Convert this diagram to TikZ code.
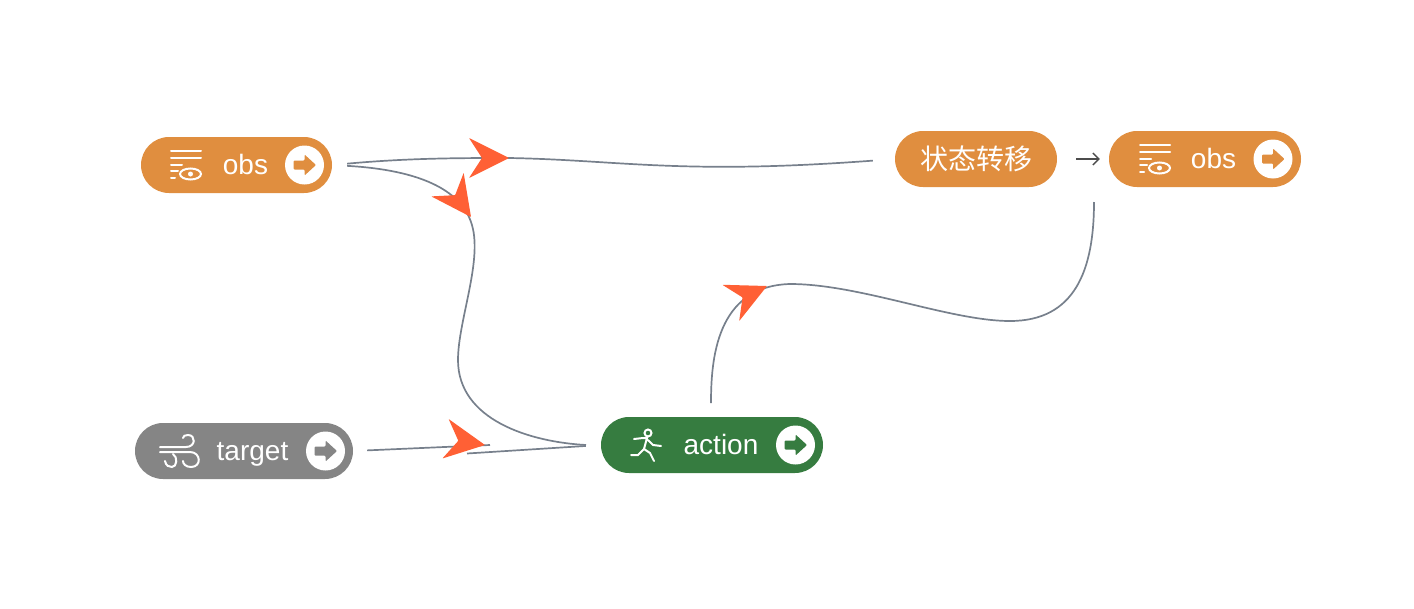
\documentclass[tikz,border=0pt]{standalone}
\usepackage{fontspec}
\setmainfont{Liberation Sans}
\newfontfamily\cjkfont{Noto Sans CJK SC}
\usetikzlibrary{shapes.misc,arrows.meta}
\definecolor{obsorange}{HTML}{E08E3F}
\definecolor{targetgray}{HTML}{858585}
\definecolor{actiongreen}{HTML}{367C40}
\definecolor{linkgray}{HTML}{77808C}
\definecolor{headred}{HTML}{FF6035}
\tikzset{
	pill/.style={rounded rectangle, minimum height=56pt, inner sep=0pt, text=white, font=\fontsize{28}{28}\selectfont},
	pilltext/.style={anchor=base, inner sep=0pt, text=white, font=\fontsize{28}{28}\selectfont},
	link/.style={draw=linkgray, line width=1.7pt},
	icon/.style={draw=white, line width=2pt, line cap=round},
	headmark/.pic={\fill[headred, rounded corners=0.6pt] (0,0) -- (-40,20) -- (-27,0) -- (-40,-20) -- cycle;},
	button/.pic={
		\fill[white] (0,0) circle (19.5);
		\fill[#1, rounded corners=1pt] (-11,-4.5) -- (0,-4.5) -- (0,-10.5) -- (11.5,0) -- (0,10.5) -- (0,4.5) -- (-11,4.5) -- cycle;},
	obsicon/.pic={
		\draw[icon] (-15,-14) -- (15,-14) (-15,-7) -- (15,-7) (-15,0) -- (-4,0) (-15,6) -- (-8,6) (-15,13) -- (-11,13);
		\draw[icon] (4.5,9) ellipse (10.5 and 5.5);
		\fill[white] (4.5,9) circle (2.5);},
	windicon/.pic={
		\draw[icon] (-20,-4) -- (6,-4) .. controls (16,-4) and (16,-16) .. (8,-16) .. controls (5,-16) and (3,-15) .. (3,-13);
		\draw[icon] (-20,1) -- (10,1) .. controls (21,1) and (22,16) .. (11,16) .. controls (6,16) and (3,13) .. (3,10);
		\draw[icon] (-15,10) .. controls (-14,15) and (-11,16) .. (-8,16) .. controls (-3,16) and (-2,6) .. (-7,3);},
	runicon/.pic={
		\draw[icon] (2,-12) circle (3.5);
		\draw[icon] (-12,-6) -- (-3,-7) -- (1,-7) -- (-2,4) -- (4,8) -- (8,16) (2,-5) -- (7,0) -- (15,1) (-2,4) -- (-8,10) -- (-15,10);},
}
\begin{document}
\begin{tikzpicture}[x=1pt,y=-1pt]
	\useasboundingbox (0,0) rectangle (1414,608);
	\node[pill, fill=obsorange, minimum width=191pt] (obsleft) at (236.5,165) {};
	\node[pill, fill=targetgray, minimum width=218pt] (target) at (244,451) {};
	\node[pill, fill=actiongreen, minimum width=222pt] (action) at (712,445) {};
	\node[pill, fill=obsorange, minimum width=162pt, font=\cjkfont\fontsize{28}{28}\selectfont] (state) at (976,159) {状态转移};
	\node[pill, fill=obsorange, minimum width=192pt] (obsright) at (1205,159) {};
	% labels
	\node[pilltext] (obslefttext) at (245.5,174.5) {obs};
	\node[pilltext] (targettext) at (252.5,460.5) {target};
	\node[pilltext] (actiontext) at (721,454.5) {action};
	\node[pilltext] (obsrighttext) at (1213.5,168.5) {obs};
	% icons
	\pic at (186,165) {obsicon};
	\pic at (1155,159) {obsicon};
	\pic at (180,451) {windicon};
	\pic at (646,445) {runicon};
	\pic at (304.5,165) {button=obsorange};
	\pic at (1273,159) {button=obsorange};
	\pic at (325.5,451) {button=targetgray};
	\pic at (795.5,445) {button=actiongreen};
	% free ends
	\coordinate (targetend) at (490,445);
	\coordinate (actionstart) at (467,453.5);
	\coordinate (actionup) at (711,403);
	\coordinate (obsdown) at (1094,202);
	% links
	\draw[link, shorten <=15pt, shorten >=22pt] (obsleft.east) .. controls (410,158) and (460,158) .. (509,158) .. controls (620,160) and (680,175) .. (state.west);
	\draw[link, shorten <=15pt] (obsleft.east) .. controls (420,170) and (460,190) .. (471,222) .. controls (484,258) and (458,320) .. (458,360) .. controls (458,420) and (530,442) .. (586,445);
	\draw[link, shorten <=14pt] (target.east) -- (targetend);
	\draw[link, shorten >=15pt] (actionstart) -- (action.west);
	\draw[link] (actionup) .. controls (711,360) and (716,286) .. (790,284) .. controls (860,284) and (950,321) .. (1010,321) .. controls (1075,321) and (1094,270) .. (obsdown);
	\draw[draw=black!70, line width=1.4pt, -{Straight Barb[length=6pt,width=12pt]}, shorten <=19pt, shorten >=9pt] (state.east) -- (obsright.west);
	% heads
	\pic at (509,158) {headmark};
	\pic[rotate=-54] at (471,217) {headmark};
	\pic[rotate=-9] at (485,445) {headmark};
	\pic[rotate=25] at (767,286) {headmark};
\end{tikzpicture}
\end{document}
